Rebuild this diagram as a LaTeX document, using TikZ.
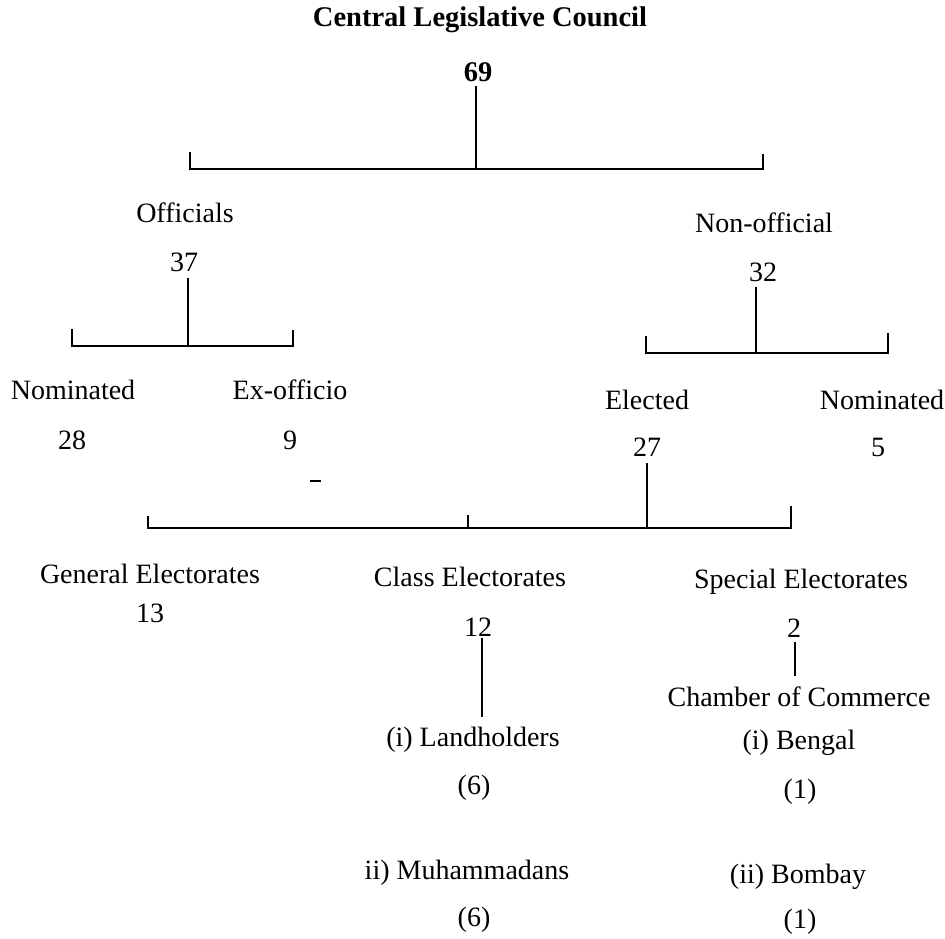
\documentclass[tikz,border=0pt]{standalone}
\usepackage{fontspec}
\setmainfont{Liberation Serif}
\begin{document}
\begin{tikzpicture}[x=1pt,y=-1pt,
  lbl/.style={inner sep=0pt, font=\fontsize{28}{30}\selectfont},
  ttl/.style={inner sep=0pt, font=\fontsize{28.5}{30}\selectfont\bfseries},
  conn/.style={line width=2.5pt}]
\useasboundingbox (0,0) rectangle (945,938);
% nodes
\node[ttl] (title) at (480,20) {Central Legislative Council};
\node[ttl] (n69) at (478,72) {69};
\node[lbl] (off) at (185,213) {Officials};
\node[lbl] (n37) at (184,262) {37};
\node[lbl] (nonoff) at (764,223) {Non-official};
\node[lbl] (n32) at (763,272) {32};
\node[lbl] (nomL) at (73,390) {Nominated};
\node[lbl] (n28) at (72,440) {28};
\node[lbl] (exo) at (290,390) {Ex-officio};
\node[lbl] (n9) at (290,440) {9};
\node[lbl] (elec) at (647,400) {Elected};
\node[lbl] (n27) at (647,447) {27};
\node[lbl] (nomR) at (882,400) {Nominated};
\node[lbl] (n5) at (878,447) {5};
\node[lbl] (gen) at (150,574) {General Electorates};
\node[lbl] (n13) at (150,613) {13};
\node[lbl] (cls) at (470,577) {Class Electorates};
\node[lbl] (n12) at (478,627) {12};
\node[lbl] (spe) at (801,582) {Special Electorates};
\node[lbl] (n2) at (794,628) {2};
\node[lbl] (coc) at (799,697) {Chamber of Commerce};
\node[lbl] (land) at (473,740) {(i) Landholders};
\node[lbl] (l6) at (474,788) {(6)};
\node[lbl] (muh) at (467,873) {ii) Muhammadans};
\node[lbl] (m6) at (474,920) {(6)};
\node[lbl] (ben) at (799,743) {(i) Bengal};
\node[lbl] (b1) at (800,792) {(1)};
\node[lbl] (bom) at (798,877) {(ii) Bombay};
\node[lbl] (bo1) at (800,922) {(1)};
% coordinates
\coordinate (s69) at (476,86);
\coordinate (b1L) at (190,169); \coordinate (b1R) at (763,169);
\coordinate (s37) at (188,278);
\coordinate (b2L) at (72,346); \coordinate (b2R) at (293,346);
\coordinate (s32) at (756,287);
\coordinate (b3L) at (646,353); \coordinate (b3R) at (888,353);
\coordinate (s27) at (647,463);
\coordinate (b4L) at (148,528); \coordinate (b4M) at (468,528); \coordinate (b4R) at (791,528);
\coordinate (s12) at (482,638); \coordinate (e12) at (482,717);
\coordinate (s2) at (795,642); \coordinate (e2) at (795,676);
% connectors
\draw[conn] (s69) -- (s69 |- b1L);
\draw[conn] ([yshift=17pt]b1L) -- (b1L) -- (b1R) -- ([yshift=15pt]b1R);
\draw[conn] (s37) -- (s37 |- b2L);
\draw[conn] ([yshift=17pt]b2L) -- (b2L) -- (b2R) -- ([yshift=16pt]b2R);
\draw[conn] (s32) -- (s32 |- b3L);
\draw[conn] ([yshift=17pt]b3L) -- (b3L) -- (b3R) -- ([yshift=20pt]b3R);
\draw[conn] (s27) -- (s27 |- b4L);
\draw[conn] ([yshift=12pt]b4L) -- (b4L) -- (b4R) -- ([yshift=22pt]b4R);
\draw[conn] (b4M) -- ([yshift=13pt]b4M);
\draw[conn] (s12) -- (e12);
\draw[conn] (s2) -- (e2);
% stray mark
\draw[line width=2.5pt] (310,481) -- (321,481);
\end{tikzpicture}
\end{document}
